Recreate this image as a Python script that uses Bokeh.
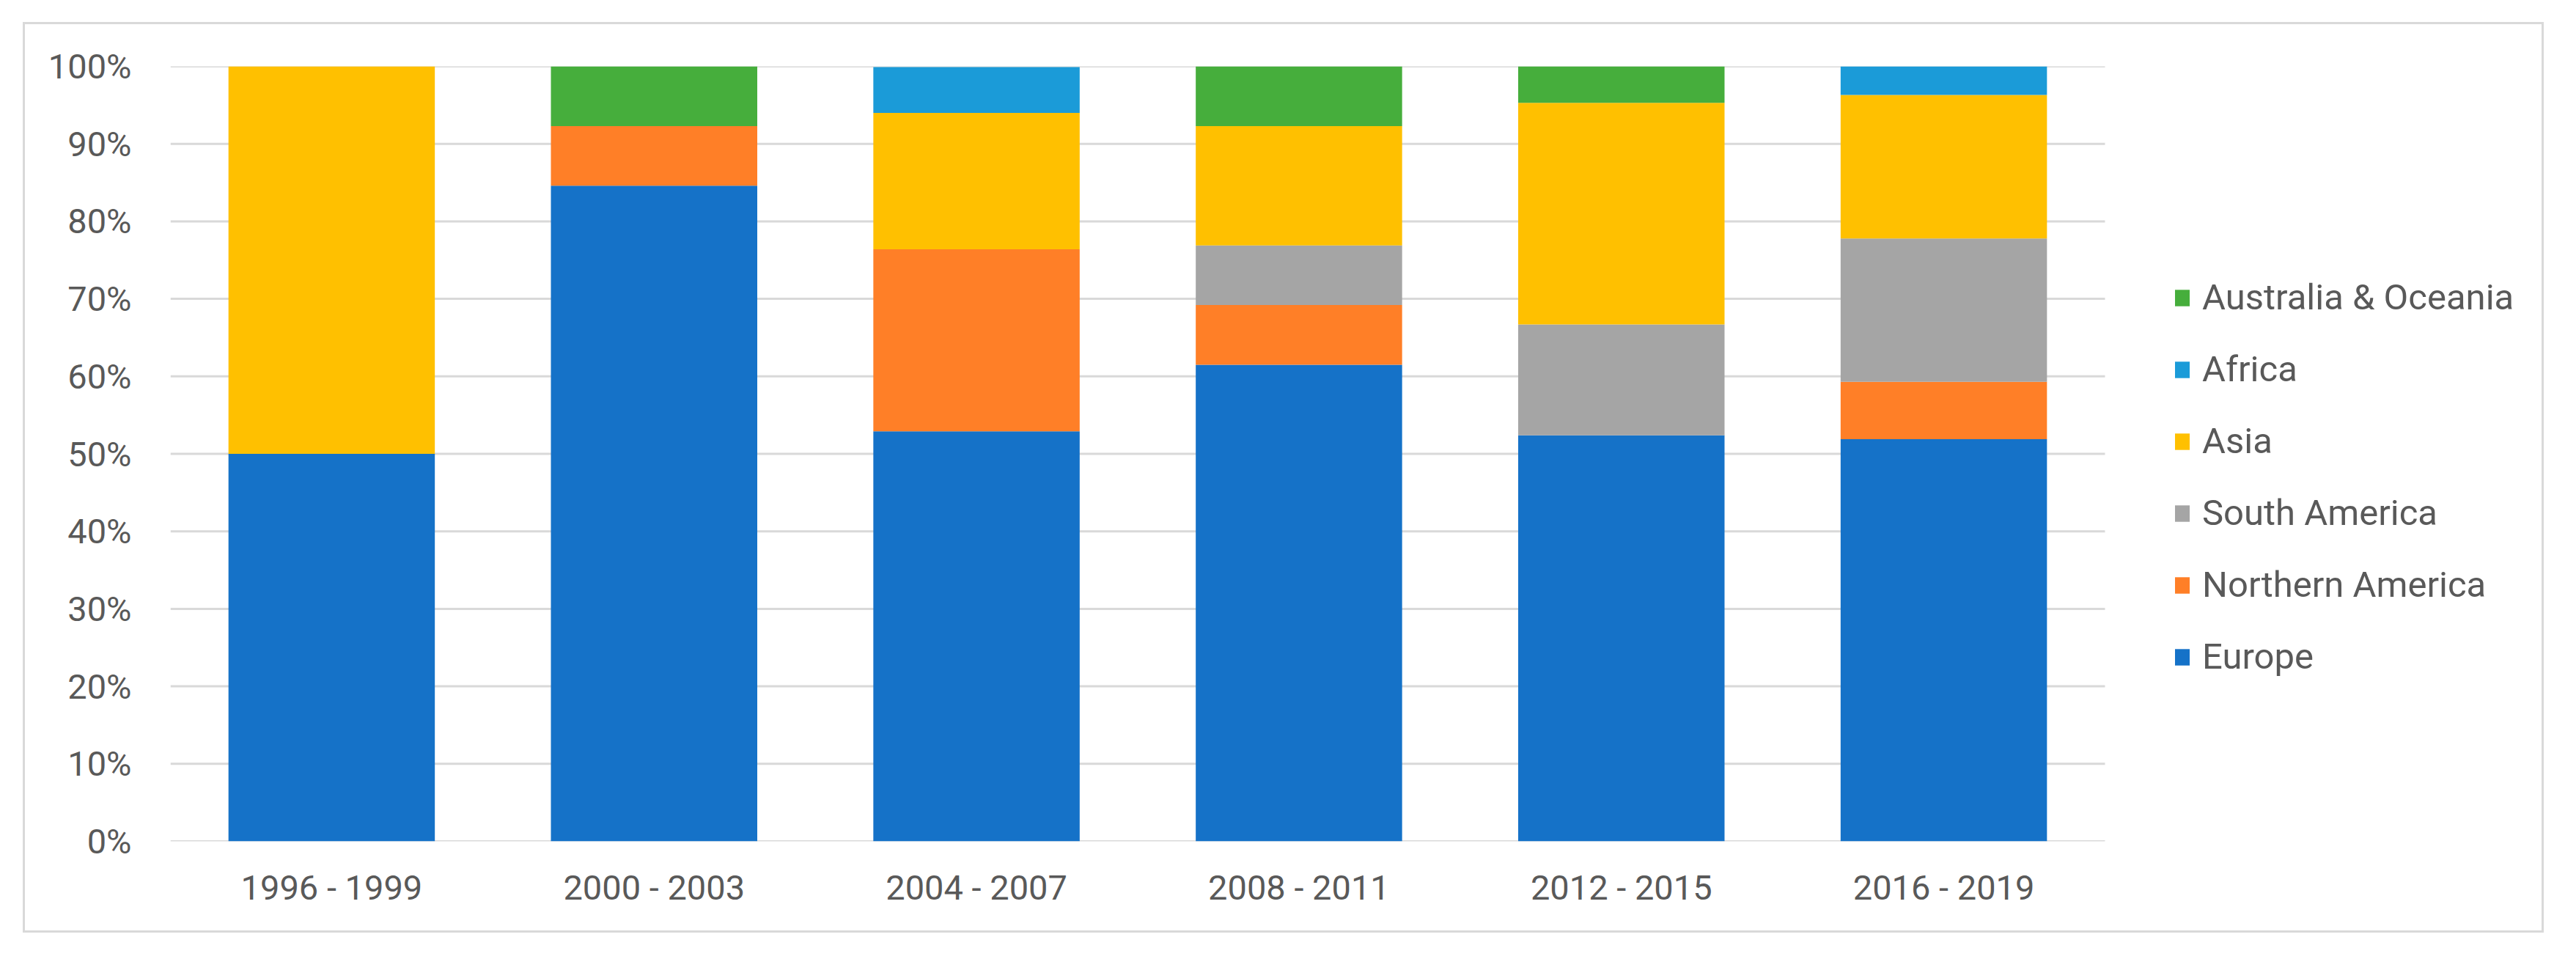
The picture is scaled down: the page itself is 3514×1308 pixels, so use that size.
from bokeh.plotting import figure
from bokeh.models import Range1d, FixedTicker, Legend, LegendItem
from bokeh.embed import file_html
from bokeh.resources import INLINE

# ---- data (percent of each period) ----
periods = ["1996 - 1999", "2000 - 2003", "2004 - 2007", "2008 - 2011", "2012 - 2015", "2016 - 2019"]
europe = [50.0, 84.6, 52.9, 61.5, 52.4, 51.9]
northern_america = [0.0, 7.7, 23.5, 7.7, 0.0, 7.4]
south_america = [0.0, 0.0, 0.0, 7.7, 14.3, 18.5]
asia = [50.0, 0.0, 17.6, 15.4, 28.6, 18.5]
africa = [0.0, 0.0, 5.9, 0.0, 0.0, 3.7]
australia_oceania = [0.0, 7.7, 0.0, 7.7, 4.8, 0.0]

series_names = ["Europe", "Northern America", "South America", "Asia", "Africa", "Australia & Oceania"]
colors = ["#1572C8", "#FF7F27", "#A5A5A5", "#FFC000", "#1B9BD8", "#46AE3C"]
y_ticks = [0, 10, 20, 30, 40, 50, 60, 70, 80, 90, 100]
y_tick_labels = ["0%", "10%", "20%", "30%", "40%", "50%", "60%", "70%", "80%", "90%", "100%"]

# bar positions on a numeric axis (one unit per period)
x_pos = [i + 0.5 for i in range(len(periods))]
data = {"x": x_pos, "Europe": europe, "Northern America": northern_america,
        "South America": south_america, "Asia": asia, "Africa": africa,
        "Australia & Oceania": australia_oceania}

FONT = "Roboto"
TXT = "#595959"

W, H = 3439, 1242          # canvas inside the 3px border
LEFT, TOP, BOTTOM = 198, 57, 128
PLOT_PX = 2639             # width of the 6 category slots
frame_w = W - LEFT
x_end = len(periods) * frame_w / PLOT_PX

p = figure(x_range=Range1d(0, x_end), y_range=Range1d(0, 100),
           width=W, height=H, output_backend="svg", toolbar_location=None,
           min_border_left=LEFT, min_border_right=0, min_border_top=TOP, min_border_bottom=BOTTOM,
           margin=(30, 0, 0, 31))
p.styles = {"border": "3px solid #D9D9D9"}
p.outline_line_color = None
p.background_fill_color = "white"
p.border_fill_color = "white"
p.grid.grid_line_color = None

# horizontal gridlines only across the category area
p.segment(x0=[0] * len(y_ticks), x1=[len(periods)] * len(y_ticks), y0=y_ticks, y1=y_ticks,
          line_color="#D9D9D9", line_width=3)

renderers = p.vbar_stack(series_names, x="x", width=0.64, color=colors,
                         source=data, line_color=None)

p.xaxis.ticker = FixedTicker(ticks=x_pos)
p.xaxis.major_label_overrides = {x: lab for x, lab in zip(x_pos, periods)}
p.yaxis.ticker = FixedTicker(ticks=y_ticks)
p.yaxis.major_label_overrides = {t: l for t, l in zip(y_ticks, y_tick_labels)}
for ax in (p.xaxis[0], p.yaxis[0]):
    ax.axis_line_color = None
    ax.major_tick_line_color = None
    ax.minor_tick_line_color = None
    ax.major_label_text_font = FONT
    ax.major_label_text_font_size = "47px"
    ax.major_label_text_color = TXT
p.yaxis.major_label_standoff = 47
p.xaxis.major_label_standoff = 29

items = [LegendItem(label=n, renderers=[r]) for n, r in zip(series_names, renderers)][::-1]
legend = Legend(items=items, location=(2732, 223), orientation="vertical",
                label_text_font=FONT, label_text_font_size="49px", label_text_color=TXT,
                glyph_width=25, glyph_height=28, label_height=56, spacing=41,
                padding=0, margin=0, label_standoff=15, border_line_color=None,
                background_fill_alpha=0)
p.add_layout(legend, "center")

open("out.html", "w").write(file_html(p, INLINE))
